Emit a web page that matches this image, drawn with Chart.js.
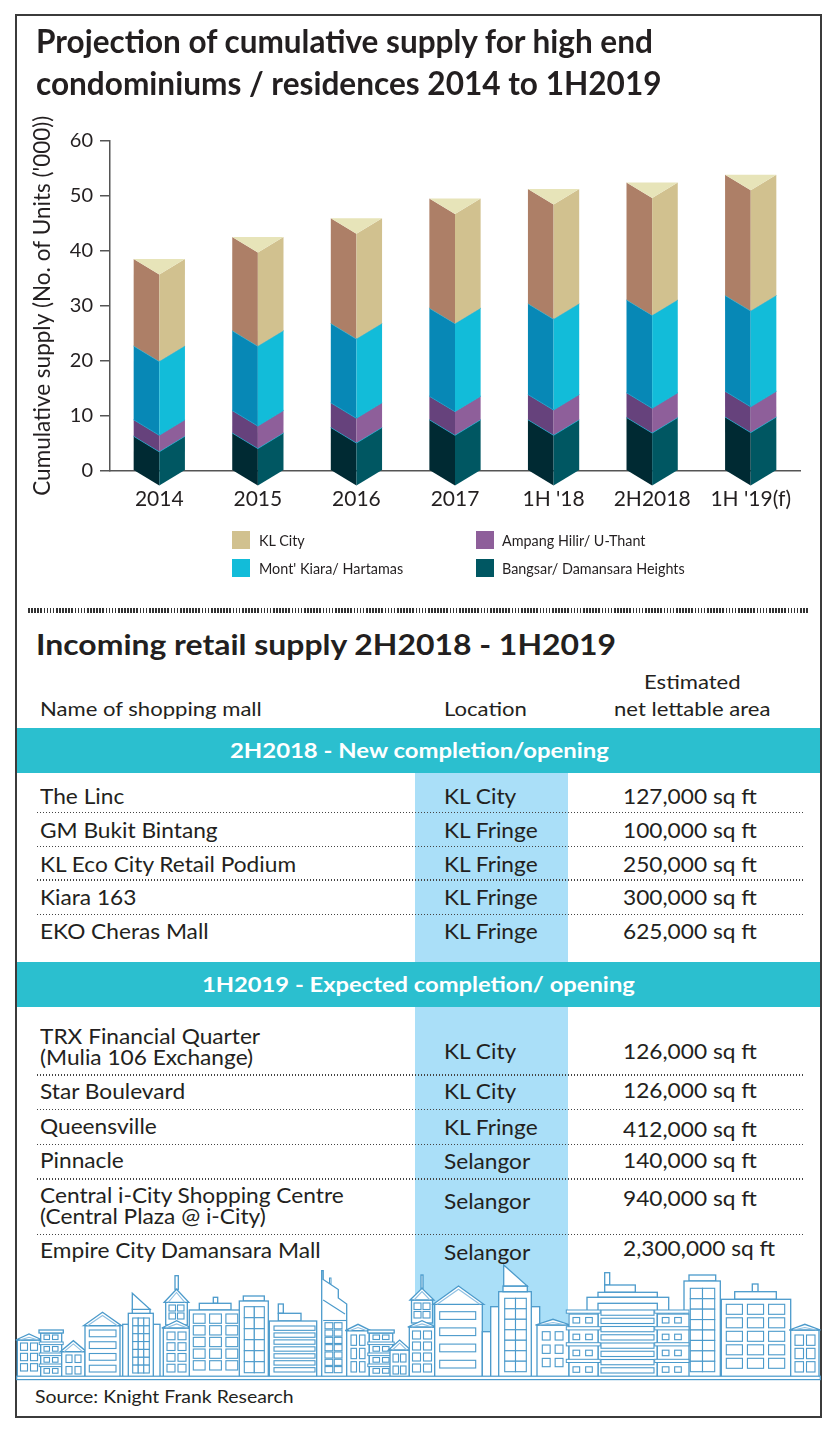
<!DOCTYPE html>
<html><head><meta charset="utf-8">
<script src="https://cdn.jsdelivr.net/npm/chart.js@4.4.1/dist/chart.umd.min.js"></script>
<style>
html,body{margin:0;padding:0;background:#fff;}
body{width:833px;height:1430px;position:relative;overflow:hidden;font-family:Lato,'Open Sans',sans-serif;color:#231f20;}
.t{position:absolute;white-space:nowrap;transform-origin:0 50%;}
#frame{position:absolute;left:14.7px;top:14px;width:807.6px;height:1403.7px;border:2px solid #3b3b3b;box-sizing:border-box;}
.band{position:absolute;left:16.7px;width:803.6px;background:#2bbfcf;}
.col{position:absolute;left:414.5px;width:153px;background:#aadff8;}
.dots{position:absolute;left:37px;width:768px;height:1.3px;background:repeating-linear-gradient(90deg,#444 0 1.4px,transparent 1.4px 3px);}
#sep{position:absolute;left:27.6px;width:780px;top:607.5px;height:5.3px;background:repeating-linear-gradient(90deg,#333 0 1.6px,transparent 1.6px 3.1px);}
#chartWrap{position:absolute;left:0;top:0;width:833px;height:600px;}
#sky{position:absolute;left:0;top:0;}
.sq{position:absolute;width:18px;height:18px;}
</style>
</head><body>
<div id="frame"></div>
<div class="band" style="top:728.3px;height:45px;"></div>
<div class="band" style="top:961.7px;height:45.6px;"></div>
<div class="col" style="top:773.3px;height:188.4px;"></div>
<div class="col" style="top:1007.3px;height:324.7px;"></div>
<div id="sep"></div>
<svg id="sky" width="833" height="1430" viewBox="0 0 833 1430"></svg>
<div id="chartWrap"><canvas id="c"></canvas></div>
<script>
// ---------------- chart data ----------------
const categories = ['2014','2015','2016','2017',"1H '18",'2H2018',"1H '19(f)"];
const bangsar   = [6.3, 6.9, 7.9, 9.3, 9.3, 9.7, 9.8];
const ampang    = [3.0, 4.1, 4.5, 4.3, 4.6, 4.5, 4.7];
const montKiara = [13.4, 14.5, 14.4, 16.0, 16.5, 16.9, 17.4];
const klCity    = [15.8, 17.0, 19.1, 19.9, 20.8, 21.3, 21.9];
const yTicks = [0,10,20,30,40,50,60];
const yTitle = "Cumulative supply (No. of Units ('000))";

// ---------------- table data ----------------
const sec1Title = '2H2018 - New completion/opening';
const sec1Names = [['The Linc'],['GM Bukit Bintang'],['KL Eco City Retail Podium'],['Kiara 163'],['EKO Cheras Mall']];
const sec1Locs  = ['KL City','KL Fringe','KL Fringe','KL Fringe','KL Fringe'];
const sec1Areas = ['127,000 sq ft','100,000 sq ft','250,000 sq ft','300,000 sq ft','625,000 sq ft'];
const sec2Title = '1H2019 - Expected completion/ opening';
const sec2Names = [['TRX Financial Quarter','(Mulia 106 Exchange)'],['Star Boulevard'],['Queensville'],['Pinnacle'],['Central i-City Shopping Centre','(Central Plaza @ i-City)'],['Empire City Damansara Mall']];
const sec2Locs  = ['KL City','KL City','KL Fringe','Selangor','Selangor','Selangor'];
const sec2Areas = ['126,000 sq ft','126,000 sq ft','412,000 sq ft','140,000 sq ft','940,000 sq ft','2,300,000 sq ft'];

// ---------------- layout (positions) ----------------
const sec1NameY = [[796],[830.7],[864],[897.7],[931.7]];
const sec1LocY = [796,830.7,864,897.7,931.7];
const sec1AreaY = [796,830.7,864,897.7,931.7];
const sec1SepY = [811.7,845.7,879.3,913.7];
const sec2NameY = [[1036.7,1057.7],[1091.7],[1126.7],[1160],[1195,1216.7],[1250]];
const sec2LocY = [1051.7,1091.7,1127.3,1161.5,1201,1252];
const sec2AreaY = [1051.7,1090.5,1129,1160,1198.3,1248.5];
const sec2SepY = [1074.3,1109,1144,1178.3,1234];

const texts = [];
function addText(txt,x,cy,size,weight,color,align,fit){
  const el=document.createElement('div'); el.className='t'; el.textContent=txt;
  el.style.fontSize=size+'px'; el.style.lineHeight=(size*1.2)+'px';
  el.style.fontWeight=weight; el.style.color=color;
  el.style.top=(cy-0.629*size)+'px'; el.style.left='0px';
  document.body.appendChild(el);
  texts.push({el,x,align,fit});
  return el;
}
// titles
addText('Projection of cumulative supply for high end',36,41.7,32.5,700,'#231f20','left',{w:616.5});
addText('condominiums / residences 2014 to 1H2019',36,83,32.5,700,'#231f20','left',{w:625.5});
addText('Incoming retail supply 2H2018 - 1H2019',36,645.5,29,700,'#231f20','left',{w:580});
// table header
addText('Estimated',692.5,682,20,400,'#231f20','center',{g:'hdr'});
addText('Name of shopping mall',40,709,20,400,'#231f20','left',{g:'hdr',ref:222});
addText('Location',443.7,709,20,400,'#231f20','left',{g:'hdr'});
addText('net lettable area',692.5,709,20,400,'#231f20','center',{g:'hdr'});
addText(sec1Title,419,750.5,21,700,'#ffffff','center',{w:379});
addText(sec2Title,418.5,984.5,21,700,'#ffffff','center',{w:433});
function addRows(names,locs,areas,nameY,locY,areaY){
  names.forEach((lines,i)=>{
    lines.forEach((ln,j)=>addText(ln,40,nameY[i][j],21,400,'#231f20','left',{g:'tbl',ref:ln==='KL Eco City Retail Podium'?256:undefined}));
    addText(locs[i],443.7,locY[i],21,400,'#231f20','left',{g:'tbl'});
    addText(areas[i],622.7,areaY[i],21,400,'#231f20','left',{g:'tbl'});
  });
}
addRows(sec1Names,sec1Locs,sec1Areas,sec1NameY,sec1LocY,sec1AreaY);
addRows(sec2Names,sec2Locs,sec2Areas,sec2NameY,sec2LocY,sec2AreaY);
[...sec1SepY,...sec2SepY].forEach(y=>{const d=document.createElement('div');d.className='dots';d.style.top=y+'px';document.body.appendChild(d);});
addText('Source: Knight Frank Research',34.5,1397.5,18,400,'#231f20','left',{w:259});

// ---------------- skyline decoration ----------------
(function(){
  const S='#4b9acb', G0=1377;
  let s='';
  const R=(x0,y0,x1,y1,sw=1.3)=>{s+=`<rect x="${x0}" y="${y0}" width="${x1-x0}" height="${y1-y0}" fill="#fff" stroke="${S}" stroke-width="${sw}"/>`;};
  const P=(pts)=>{s+=`<polygon points="${pts.map(p=>p.join(',')).join(' ')}" fill="#fff" stroke="${S}" stroke-width="1.3"/>`;};
  const L=(pts,c=S,sw=1.1)=>{s+=`<polyline points="${pts.map(p=>p.join(',')).join(' ')}" fill="none" stroke="${c}" stroke-width="${sw}"/>`;};
  const W=(x0,y0,x1,y1,cols,rows,gx,gy)=>{const w=(x1-x0-(cols-1)*gx)/cols,h=(y1-y0-(rows-1)*gy)/rows;
    for(let r=0;r<rows;r++)for(let c=0;c<cols;c++)R(x0+c*(w+gx),y0+r*(h+gy),x0+c*(w+gx)+w,y0+r*(h+gy)+h,1.1);};
  const Gb=(x0,x1,py,ey)=>{const m=(x0+x1)/2;P([[x0-1.5,ey],[m,py],[x1+1.5,ey]]);L([[x0+2.5,ey],[m,py+3.2],[x1-2.5,ey]],'#8fc0e2');};
  const house=(x0,x1,py,ey)=>{R(x0,ey,x1,G0);Gb(x0,x1,py,ey);};
  const floors=(x0,x1,y0,n,step,wx)=>{for(let i=0;i<n;i++){const y=y0+i*step;R(x0-1.5,y,x1+1.5,y+2.6,1);W(wx[0],y+4.5,wx[1],y+9.2,2,1,wx[2],0);}};
  // B1
  house(17.3,40.7,1334,1340); W(20.5,1343,37.5,1371,2,3,3,3);
  // B2
  R(40.7,1333,61.7,G0); R(39,1330,63.3,1333); floors(40.7,61.7,1342,3,11,[44,58,3]); W(44,1335,58,1339.5,2,1,3,0); 
  // B3
  house(61.7,85,1340.7,1351.7); W(66,1355,81,1374,2,2,3,4);
  // B4
  R(85,1325.7,120,G0); Gb(85,120,1312.3,1325.7); W(89.3,1330,116,1372,1,4,0,5);
  // B5
  R(122.7,1324.3,160,G0); R(128.3,1313.3,153.3,G0); R(132.3,1309.3,150,1313.3);
  P([[132.3,1293.3],[132.3,1309.3],[150,1309.3]]); W(132.7,1318,149.3,1373,3,7,0,0);
  // B6
  R(175,1275.7,178.3,1289.3); R(165.7,1302.3,187.3,1325); Gb(165.7,187.3,1289.3,1302.3); W(169,1305,184,1319,2,2,2,2);
  R(163.3,1328,190,G0); Gb(163.3,190,1320.7,1328); W(167,1332,186,1372,2,4,3,3);
  // B7
  R(213.3,1297.3,217.7,1303.3); R(199.3,1303.3,231,1310); R(189.3,1310,241.7,G0); W(193.3,1314,237.7,1370,3,5,4.5,2.4);
  // B8
  R(243.3,1296,264.3,1301); R(239.3,1301,268.3,G0); W(244.3,1306.7,264.3,1372.7,2,6,0,0);
  // B9
  R(278.3,1304,283.3,1313.3); R(278.3,1313.3,301,1321); R(269.3,1321,316.7,G0); W(274,1326,315,1372,1,7,0,2.6);
  // B10
  R(329.5,1278,331,1284,1);
  P([[321.7,G0],[321.7,1270.7],[323.2,1270.7],[323.2,1279.5],[338.3,1289.5],[338.3,1298],[346.7,1304],[346.7,G0]]);
  L([[323.2,1300],[345,1314]]); L([[323.2,1320.5],[346.7,1320.5]]); W(325,1322.7,342,1372.7,2,7,1.5,1.2);
  // B11
  house(346.7,369.3,1324.3,1330.7); W(351,1335,365,1372,2,3,3,3);
  // B12
  R(369.3,1333,392.7,G0); R(367.8,1330,394.2,1333); floors(369.3,392.7,1342,3,11,[373,389,3]); W(373,1335,389,1339.5,2,1,3,0);
  // B13
  house(390,409.3,1340,1350); W(393,1354,406,1374,2,2,2,4);
  // B14
  R(421,1275,423,1288.3); R(411.5,1300,432.5,1323); Gb(411.5,432.5,1288.3,1300); W(414,1303,430,1318,2,2,2,2);
  R(409.3,1327,434.7,G0); Gb(409.3,434.7,1320.7,1327); W(412.5,1331,431.5,1372,2,4,3,3);
  // B15
  R(434.7,1304.3,482.3,G0); Gb(434.7,482.3,1286,1304.3); W(439.7,1311.7,475.7,1368,1,4,0,8.5);
  // B16
  R(482.3,1331.7,490.7,G0); R(490.7,1306.7,539.7,G0); R(498.7,1291.7,531.3,G0); R(503,1286,527.3,1291.7);
  P([[503.7,1265],[503.7,1286],[527.3,1286]]); W(504.7,1298.3,526.3,1371.7,2,7,0,0);
  // B17
  house(537,569,1319.3,1325); W(542.3,1331.7,563,1366.7,2,3,5,5);
  // B19
  R(689,1275,715.7,1281); R(684,1281,720.3,G0); W(690.3,1288.3,714.7,1371.7,2,8,0,0);
  // B18
  R(604.7,1272.7,609.7,1285); R(604.7,1285,635.3,1292.3); R(598,1292.3,657.3,1297.3); R(587,1297.3,668.7,G0);
  R(598,1303.3,657.3,G0); W(601,1310,654,1373,1,8,0,3);
  R(569,1314,598,G0); R(657.3,1314,689,G0);
  [1310,1326.7,1342.7,1359.3].forEach((y,i)=>{R(566.3,y,600.3,y+3.2,1);R(654.7,y,689,y+3.2,1);
    W(573,y+7.5,592.3,y+13,2,1,6,0); W(662.3,y+7.5,681.3,y+13,2,1,5.7,0);});
  // B20
  R(752.3,1284,758,1291.7); R(734.7,1291.7,776.3,1299.3); R(721.3,1299.3,790.7,G0); W(726.3,1304.3,784.7,1368.3,3,5,5,3.5);
  // B21
  house(790.7,819,1324.3,1330); W(795,1335,815,1372,2,3,3,3);
  // ground
  R(16.7,1376.2,820.3,1379.6,1.2);
  document.getElementById('sky').innerHTML=s;
})();

// ---------------- chart ----------------
const DEPTH = 15.5;
const datasets = [
  {label:'Bangsar/ Damansara Heights', data:bangsar,   faceDark:'#002a33', faceLight:'#005762', edge:'#22b4d6'},
  {label:'Ampang Hilir/ U-Thant',      data:ampang,    faceDark:'#66427c', faceLight:'#8e5f9a', edge:'#25aed2'},
  {label:"Mont' Kiara/ Hartamas",      data:montKiara, faceDark:'#0788b6', faceLight:'#12bcd9', edge:'#3fb4cf'},
  {label:'KL City',                    data:klCity,    faceDark:'#ad7f67', faceLight:'#d1c18f', faceTop:'#e7e4b9'}
].map(d=>Object.assign(d,{backgroundColor:'rgba(0,0,0,0)',borderWidth:0,categoryPercentage:1,barPercentage:0.52}));

const prism3d = {
  id:'prism3d',
  afterDatasetsDraw(chart){
    const ctx=chart.ctx, n=chart.data.datasets.length;
    const poly=(pts,fill)=>{ctx.beginPath();pts.forEach((p,k)=>k?ctx.lineTo(p[0],p[1]):ctx.moveTo(p[0],p[1]));ctx.closePath();ctx.fillStyle=fill;ctx.fill();};
    ctx.save();
    chart.data.datasets.forEach((ds,i)=>{
      const meta=chart.getDatasetMeta(i);
      meta.data.forEach(bar=>{
        const {x,y,base,width}=bar.getProps(['x','y','base','width'],true);
        const L=x-width/2, R=x+width/2, d=DEPTH;
        poly([[L,y],[x,y+d],[x,base+d],[L,base]],ds.faceDark);
        poly([[x,y+d],[R,y],[R,base],[x,base+d]],ds.faceLight);
        if(i===n-1) poly([[L,y],[R,y],[x,y+d]],ds.faceTop);
        if(ds.edge){ctx.beginPath();ctx.moveTo(L,y);ctx.lineTo(x,y+d);ctx.lineTo(R,y);ctx.strokeStyle=ds.edge;ctx.lineWidth=1.2;ctx.stroke();}
      });
    });
    ctx.restore();
  }
};

const chart = new Chart(document.getElementById('c'),{
  type:'bar',
  data:{labels:categories,datasets},
  options:{
    responsive:true, maintainAspectRatio:false, animation:false,
    layout:{padding:{left:0,right:33,top:140.7,bottom:0}},
    plugins:{legend:{display:false},tooltip:{enabled:false}},
    scales:{
      x:{stacked:true,
         grid:{display:false,drawTicks:false},
         border:{display:true,color:'#555',width:1.5},
         ticks:{color:'#231f20',font:{family:'Lato',size:21},padding:16,maxRotation:0,autoSkip:false},
         afterFit(s){s.height=600-470.7;}},
      y:{stacked:true,min:0,max:60,
         afterBuildTicks(s){s.ticks=yTicks.map(v=>({value:v}));},
         grid:{display:true,drawOnChartArea:false,drawTicks:true,tickLength:10,color:'#555',lineWidth:1.5},
         border:{display:true,color:'#555',width:1.5},
         ticks:{color:'#231f20',font:{family:'Lato',size:20},padding:7},
         title:{display:true,text:yTitle,color:'#231f20',font:{family:'Lato',size:22.5},padding:{top:29,bottom:0}},
         afterFit(s){s.width=110;}}
    }
  },
  plugins:[prism3d]
});

// ---------------- legend (built from chart datasets) ----------------
const legendOrder = [3,1,2,0]; // row-major 2x2
const legCols=[[232,259],[475.5,502]], legRows=[540,568];
legendOrder.forEach((di,k)=>{
  const ds=chart.data.datasets[di]; const c=legCols[k%2], cy=legRows[Math.floor(k/2)];
  const sq=document.createElement('div'); sq.className='sq'; sq.style.left=c[0]+'px'; sq.style.top=(cy-9)+'px'; sq.style.background=ds.faceLight;
  document.body.appendChild(sq);
  addText(ds.label,c[1],cy,15,400,'#231f20','left',{g:'leg',ref:ds.label.startsWith('Bangsar')?183:undefined});
});

// ---------------- fit text widths ----------------
function fitAll(){
  const gk={};
  texts.forEach(t=>{ if(t.fit.ref){gk[t.fit.g]=t.fit.ref/t.el.offsetWidth;} });
  texts.forEach(t=>{
    const w=t.el.offsetWidth;
    const k=t.fit.w? t.fit.w/w : (gk[t.fit.g]||1);
    const sw=w*k;
    const left=t.align==='center'? t.x-sw/2 : t.x;
    t.el.style.left=left+'px';
    t.el.style.transform=`scaleX(${k})`;
  });
}
fitAll();
if(document.fonts&&document.fonts.ready){document.fonts.ready.then(fitAll);}
</script>
</body></html>
